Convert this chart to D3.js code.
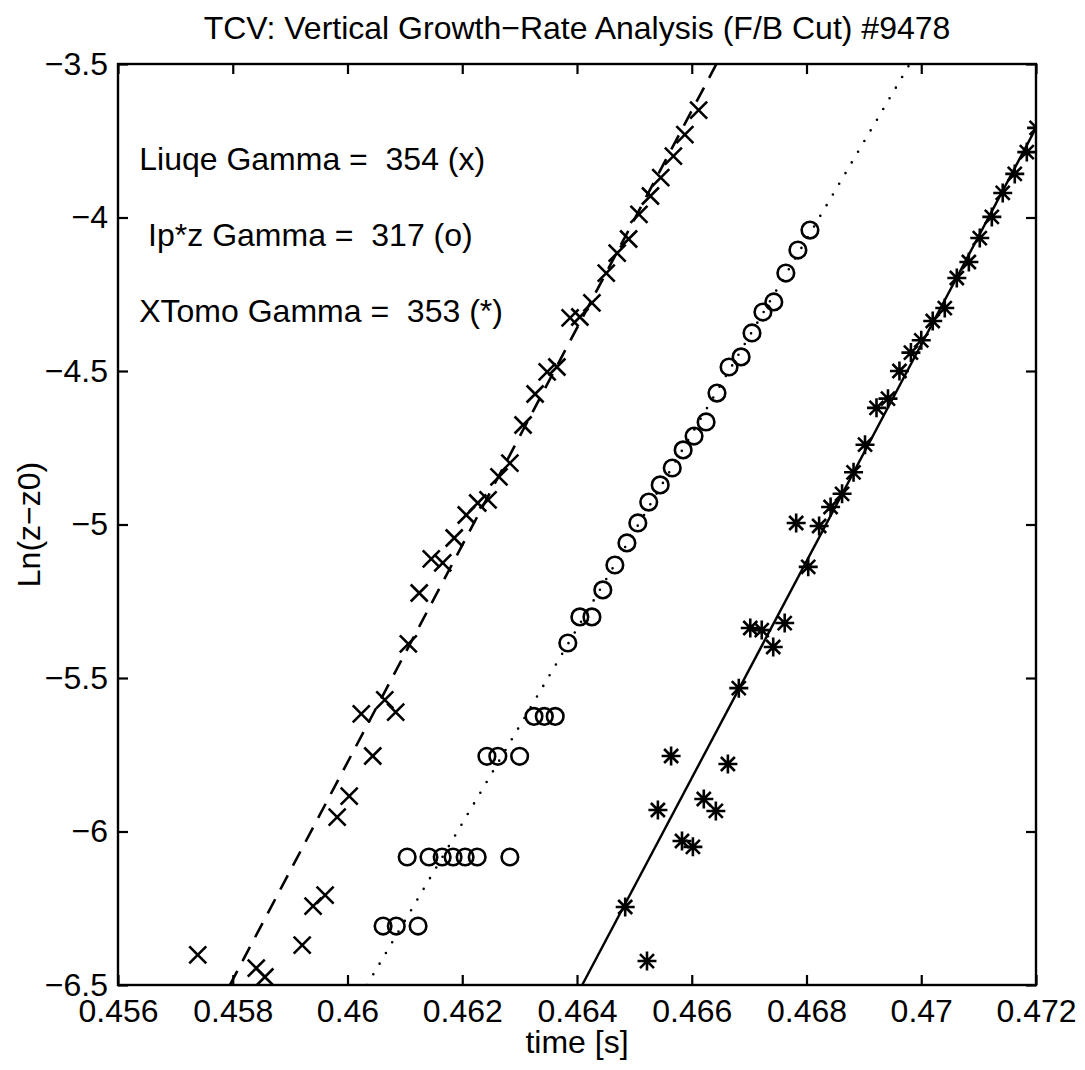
<!DOCTYPE html>
<html>
<head>
<meta charset="UTF-8">
<title>TCV: Vertical Growth-Rate Analysis</title>
<script src="https://d3js.org/d3.v7.min.js"></script>
<style>
  body { margin: 0; background: #fff; }
  svg text { font-family: "Liberation Sans", Arial, Helvetica, sans-serif; fill: #000; }
</style>
</head>
<body>
<div id="chart"></div>
<script>
// ---- data ----
const xTicks = [0.456, 0.458, 0.46, 0.462, 0.464, 0.466, 0.468, 0.47, 0.472];
const xTickLabels = ["0.456", "0.458", "0.46", "0.462", "0.464", "0.466", "0.468", "0.47", "0.472"];
const yTicks = [-3.5, -4, -4.5, -5, -5.5, -6, -6.5];
const yTickLabels = ["\u22123.5", "\u22124", "\u22124.5", "\u22125", "\u22125.5", "\u22126", "\u22126.5"];

// Liuqe (x)
const liuqeT = [0.45739, 0.45841, 0.45856, 0.45921, 0.45940, 0.45961, 0.45982, 0.46003, 0.46024, 0.46044,
  0.46065, 0.46084, 0.46106, 0.46125, 0.46146, 0.46166, 0.46186, 0.46207, 0.46227, 0.46245,
  0.46264, 0.46283, 0.46306, 0.46327, 0.46348, 0.46365, 0.46388, 0.46405, 0.46426, 0.46451,
  0.46470, 0.46490, 0.46508, 0.46528, 0.46546, 0.46568, 0.46588, 0.46612];
const liuqeLn = [-6.402, -6.445, -6.474, -6.370, -6.243, -6.207, -5.953, -5.885, -5.617, -5.754,
  -5.571, -5.611, -5.389, -5.223, -5.112, -5.125, -5.044, -4.969, -4.930, -4.920,
  -4.845, -4.800, -4.676, -4.575, -4.503, -4.487, -4.327, -4.324, -4.278, -4.181,
  -4.116, -4.070, -3.990, -3.930, -3.870, -3.800, -3.730, -3.650];

// Ip*z (o)
const ipzT = [0.46062, 0.46085, 0.46123, 0.46104, 0.46142, 0.46165, 0.46184, 0.46205, 0.46226, 0.46283,
  0.46243, 0.46262, 0.46300, 0.46325, 0.46343, 0.46362, 0.46384, 0.46405, 0.46426, 0.46445,
  0.46466, 0.46487, 0.46506, 0.46525, 0.46545, 0.46566, 0.46585, 0.46604, 0.46625, 0.46644,
  0.46665, 0.46686, 0.46705, 0.46724, 0.46743, 0.46764, 0.46785, 0.46806];
const ipzLn = [-6.308, -6.308, -6.308, -6.083, -6.083, -6.083, -6.083, -6.083, -6.083, -6.083,
  -5.755, -5.755, -5.755, -5.625, -5.625, -5.625, -5.386, -5.301, -5.301, -5.213,
  -5.132, -5.060, -4.995, -4.927, -4.871, -4.816, -4.757, -4.712, -4.666, -4.572,
  -4.487, -4.454, -4.376, -4.308, -4.275, -4.181, -4.106, -4.041];

// XTomo (*)
const xtomoT = [0.46484, 0.46522, 0.46541, 0.46564, 0.46583, 0.46602, 0.46621, 0.46642, 0.46663, 0.46682,
  0.46702, 0.46722, 0.46742, 0.46762, 0.46782, 0.46803, 0.46822, 0.46842, 0.46862, 0.46882,
  0.46902, 0.46922, 0.46942, 0.46962, 0.46982, 0.47000, 0.47020, 0.47041, 0.47062, 0.47083,
  0.47102, 0.47123, 0.47142, 0.47163, 0.47184, 0.47201];
const xtomoLn = [-6.246, -6.422, -5.930, -5.754, -6.031, -6.050, -5.894, -5.933, -5.780, -5.533,
  -5.337, -5.344, -5.399, -5.321, -4.995, -5.138, -5.005, -4.943, -4.900, -4.830,
  -4.740, -4.620, -4.590, -4.500, -4.440, -4.400, -4.337, -4.295, -4.197, -4.145,
  -4.067, -3.998, -3.920, -3.858, -3.787, -3.708];

// fitted lines (end points as seen on the plot)
const liuqeFitT = [0.45795, 0.46643], liuqeFitLn = [-6.5, -3.5];
const ipzFitT = [0.46034, 0.46980], ipzFitLn = [-6.5, -3.5];
const xtomoFitT = [0.46409, 0.472], xtomoFitLn = [-6.5, -3.708];

const notes = ["Liuqe Gamma =  354 (x)", " Ip*z Gamma =  317 (o)", "XTomo Gamma =  353 (*)"];
const noteT = 0.45637;
const noteLn = [-3.845, -4.093, -4.340];

const titleText = "TCV: Vertical Growth\u2212Rate Analysis (F/B Cut) #9478";
const xLabel = "time [s]";
const yLabel = "Ln(z\u2212z0)";

// ---- layout ----
const W = 1085, H = 1070;
const margin = { top: 64, right: 49, bottom: 85, left: 118 };
const width = W - margin.left - margin.right;
const height = H - margin.top - margin.bottom;
const fs = 32;
const sw = 2.6;

const x = d3.scaleLinear().domain([0.456, 0.472]).range([0, width]);
const y = d3.scaleLinear().domain([-6.5, -3.5]).range([height, 0]);

const svg = d3.select("#chart").append("svg")
  .attr("width", W).attr("height", H)
  .style("background", "#fff");

svg.append("rect").attr("width", W).attr("height", H).attr("fill", "#fff");

const g = svg.append("g").attr("transform", `translate(${margin.left},${margin.top})`);

g.append("clipPath").attr("id", "clip")
  .append("rect").attr("width", width).attr("height", height);

// axes, ticks pointing inward like the original
const xAxis = d3.axisBottom(x).tickValues(xTicks)
  .tickFormat((d, i) => xTickLabels[i]).tickSizeInner(-10).tickSizeOuter(0).tickPadding(14);
const yAxis = d3.axisLeft(y).tickValues(yTicks)
  .tickFormat((d, i) => yTickLabels[i]).tickSizeInner(-10).tickSizeOuter(0).tickPadding(10);

const gx = g.append("g").attr("transform", `translate(0,${height})`).call(xAxis);
const gy = g.append("g").call(yAxis);
const gxt = g.append("g").call(d3.axisTop(x).tickValues(xTicks).tickFormat("").tickSizeInner(-10).tickSizeOuter(0));
const gyr = g.append("g").attr("transform", `translate(${width},0)`)
  .call(d3.axisRight(y).tickValues(yTicks).tickFormat("").tickSizeInner(-10).tickSizeOuter(0));

[gx, gy, gxt, gyr].forEach(a => {
  a.select(".domain").remove();
  a.selectAll(".tick line").attr("stroke", "#000").attr("stroke-width", 2.2);
  a.selectAll("text").style("font-size", fs + "px").attr("fill", "#000");
});

g.append("rect").attr("width", width).attr("height", height)
  .attr("fill", "none").attr("stroke", "#000").attr("stroke-width", 2.4);

// fit lines
const line = d3.line().x(d => x(d[0])).y(d => y(d[1]));
const plot = g.append("g").attr("clip-path", "url(#clip)");

plot.append("path").datum(d3.zip(liuqeFitT, liuqeFitLn)).attr("d", line)
  .attr("fill", "none").attr("stroke", "#000").attr("stroke-width", 2.6).attr("stroke-dasharray", "16,11");
plot.append("path").datum(d3.zip(ipzFitT, ipzFitLn)).attr("d", line)
  .attr("fill", "none").attr("stroke", "#000").attr("stroke-width", 2.6)
  .attr("stroke-dasharray", "0,12.4").attr("stroke-linecap", "round");
plot.append("path").datum(d3.zip(xtomoFitT, xtomoFitLn)).attr("d", line)
  .attr("fill", "none").attr("stroke", "#000").attr("stroke-width", 2.4);

// markers
const s = 8.5;
plot.selectAll(".xm").data(d3.zip(liuqeT, liuqeLn)).enter().append("path")
  .attr("class", "xm")
  .attr("transform", d => `translate(${x(d[0])},${y(d[1])})`)
  .attr("d", `M${-s},${-s}L${s},${s}M${-s},${s}L${s},${-s}`)
  .attr("stroke", "#000").attr("stroke-width", sw).attr("fill", "none");

plot.selectAll(".om").data(d3.zip(ipzT, ipzLn)).enter().append("circle")
  .attr("class", "om")
  .attr("cx", d => x(d[0])).attr("cy", d => y(d[1])).attr("r", 8.3)
  .attr("stroke", "#000").attr("stroke-width", sw).attr("fill", "none");

const a = 9.5, b = 7;
plot.selectAll(".sm").data(d3.zip(xtomoT, xtomoLn)).enter().append("path")
  .attr("class", "sm")
  .attr("transform", d => `translate(${x(d[0])},${y(d[1])})`)
  .attr("d", `M0,${-a}V${a}M${-a},0H${a}M${-b},${-b}L${b},${b}M${-b},${b}L${b},${-b}`)
  .attr("stroke", "#000").attr("stroke-width", sw).attr("fill", "none");

// annotations
g.selectAll(".note").data(notes).enter().append("text")
  .attr("class", "note")
  .attr("x", x(noteT)).attr("y", (d, i) => y(noteLn[i]))
  .attr("xml:space", "preserve").style("white-space", "pre")
  .style("font-size", fs + "px")
  .text(d => d);

// title and labels
svg.append("text").attr("x", margin.left + width / 2).attr("y", 39)
  .attr("text-anchor", "middle").style("font-size", fs + "px").text(titleText);
svg.append("text").attr("x", margin.left + width / 2).attr("y", 1053)
  .attr("text-anchor", "middle").style("font-size", fs + "px").text(xLabel);
svg.append("text").attr("transform", `translate(40,${margin.top + height / 2}) rotate(-90)`)
  .attr("text-anchor", "middle").style("font-size", fs + "px").text(yLabel);
</script>
</body>
</html>
